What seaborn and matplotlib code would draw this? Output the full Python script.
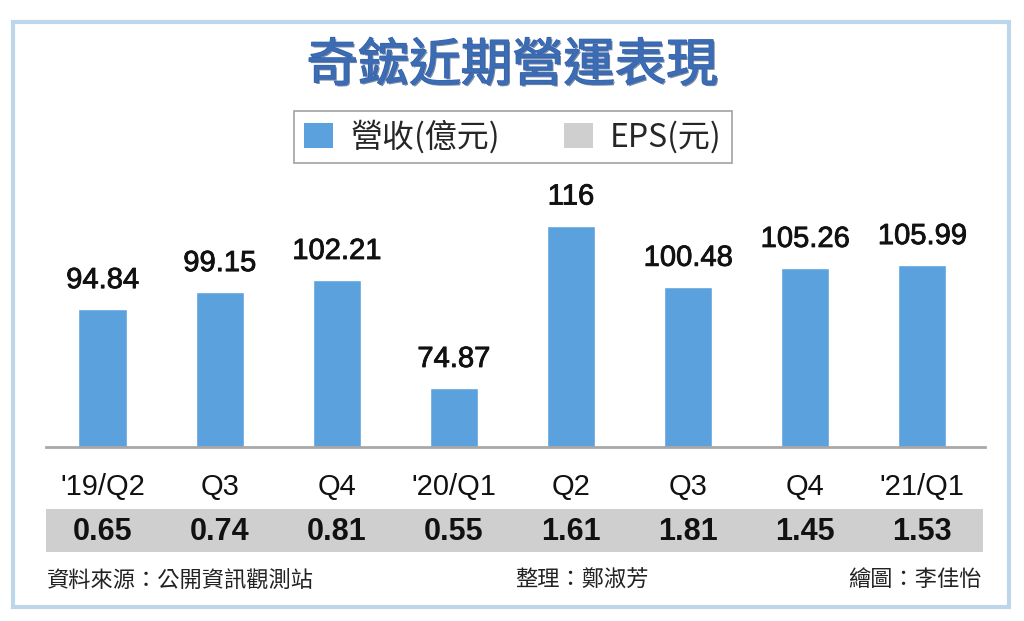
import numpy as np
import pandas as pd
import matplotlib
matplotlib.use("Agg")
import matplotlib.pyplot as plt
import matplotlib.patheffects as pe
from matplotlib.patches import Patch, Rectangle
import seaborn as sns

# data
quarters = ["'19/Q2", "Q3", "Q4", "'20/Q1", "Q2", "Q3", "Q4", "'21/Q1"]
revenue = [94.84, 99.15, 102.21, 74.87, 116, 100.48, 105.26, 105.99]   # 營收(億元)
eps = [0.65, 0.74, 0.81, 0.55, 1.61, 1.81, 1.45, 1.53]                 # EPS(元)

TITLE = "奇鋐近期營運表現"
LEG_REV = "營收(億元)"
LEG_EPS = "EPS(元)"
SOURCE = "資料來源：公開資訊觀測站"
EDITOR = "整理：鄭淑芳"
ARTIST = "繪圖：李佳怡"

BAR = "#5ba1de"
GRAY = "#cfcfcf"
CJK = ["Noto Sans CJK TC", "DejaVu Sans"]

sns.set_style("white")
plt.rcParams["font.family"] = ["Liberation Sans", "Noto Sans CJK TC", "DejaVu Sans"]

W, H = 1024, 621
fig = plt.figure(figsize=(W / 100, H / 100), dpi=100)

def fx(px): return px / W
def fy(py): return 1 - py / H

# outer light-blue frame
fig.patches.append(Rectangle((fx(13), fy(607)), fx(1009) - fx(13), fy(22) - fy(607),
                             transform=fig.transFigure, fill=False,
                             edgecolor="#bcd6ec", linewidth=3))

# main bar axes
ax = fig.add_axes([fx(46), fy(447), fx(985) - fx(46), fy(180) - fy(447)])
df = pd.DataFrame({"idx": np.arange(len(quarters)), "revenue": revenue})
sns.barplot(data=df, x="idx", y="revenue", color=BAR, width=0.41,
            saturation=1, ax=ax)
ax.set_ylim(60, 127.6)
ax.set_xlim(-0.4825, 7.536)
ax.bar_label(ax.containers[0], labels=[f"{v:g}" for v in revenue],
             padding=11, fontsize=21, color="#111111",
             path_effects=[pe.withStroke(linewidth=0.6, foreground="#111111")])
for s in ["top", "right", "left"]:
    ax.spines[s].set_visible(False)
ax.spines["bottom"].set_color("#a8a8a8")
ax.spines["bottom"].set_linewidth(2)
ax.set_yticks([])
ax.set_xticks(np.arange(len(quarters)))
ax.set_xticklabels(quarters)
ax.tick_params(axis="x", length=8, width=1.2, color="#a8a8a8",
               pad=11, labelsize=21, labelcolor="#111111")
ax.set_xlabel("")
ax.set_ylabel("")

# EPS band
ax2 = fig.add_axes([fx(46), fy(552), fx(983) - fx(46), fy(509) - fy(552)])
ax2.set_facecolor(GRAY)
ax2.set_xlim(-0.4825, 7.536 - (985 - 983) / 117.1)
ax2.set_ylim(0, 1)
for i, v in enumerate(eps):
    ax2.text(i, 0.47, f"{v:g}", ha="center", va="center",
             fontsize=22, fontweight="bold", color="#111111")
ax2.set_xticks([])
ax2.set_yticks([])
for s in ax2.spines.values():
    s.set_visible(False)

# title
fig.text(0.5, fy(66), TITLE, ha="center", va="center", fontsize=37,
         fontweight="normal", color="#3c6cb4", family=CJK,
         path_effects=[pe.withSimplePatchShadow(offset=(1.2, -1.2),
                                                shadow_rgbFace="#1c3a6b", alpha=0.6),
                       pe.withStroke(linewidth=1.0, foreground="#3463ab")])

# legend
handles = [Patch(facecolor=BAR, edgecolor="none", label=LEG_REV),
           Patch(facecolor=GRAY, edgecolor="none", label=LEG_EPS)]
leg = fig.legend(handles=handles, loc="center", bbox_to_anchor=(fx(513), fy(137)),
                 ncol=2, frameon=True, fancybox=False,
                 prop={"family": CJK, "size": 23},
                 handlelength=0.9, handleheight=0.85, handletextpad=0.55,
                 columnspacing=2.0, borderpad=0.3, borderaxespad=0)
leg.get_frame().set_edgecolor("#8a8a8a")
leg.get_frame().set_linewidth(1.2)

# footer
fig.text(fx(47), fy(580), SOURCE, ha="left", va="center", fontsize=16,
         color="#222222", family=CJK)
fig.text(fx(515), fy(580), EDITOR, ha="left", va="center", fontsize=16,
         color="#222222", family=CJK)
fig.text(fx(982), fy(580), ARTIST, ha="right", va="center", fontsize=16,
         color="#222222", family=CJK)

fig.savefig("out.png", dpi=100)
